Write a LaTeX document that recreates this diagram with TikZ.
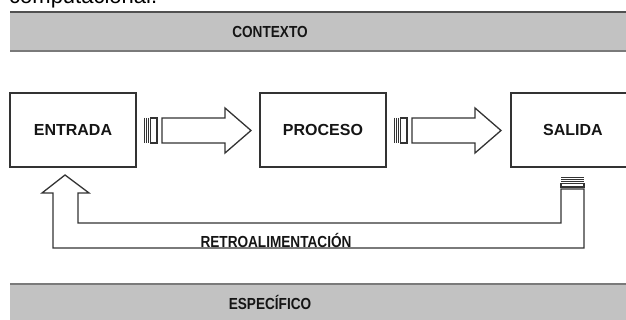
\documentclass[tikz,border=0pt]{standalone}
\usepackage{fontspec}
\setmainfont{Liberation Sans}
\newfontfamily\narrowlab{Liberation Sans}[FakeStretch=0.85]
\definecolor{bandgray}{HTML}{C2C2C2}
\definecolor{bandtop}{HTML}{505050}
\definecolor{bandbot}{HTML}{7A7A7A}
\definecolor{edge}{HTML}{333333}
\definecolor{ink}{HTML}{151515}
\tikzset{
  boxnode/.style={draw=edge, line width=1.4pt, fill=white, minimum width=126pt, minimum height=74pt, inner sep=0pt,
    text=ink, font=\bfseries\fontsize{16}{16}\selectfont},
  bandlabel/.style={text=ink, inner sep=0pt, font=\narrowlab\bfseries\fontsize{16}{16}\selectfont},
  blockarrow/.style={draw=edge, line width=1.3pt, fill=white, line join=miter},
  stripe/.style={draw=edge, line width=1pt},
}
\begin{document}
\begin{tikzpicture}[x=1pt,y=-1pt]
\clip (0,0) rectangle (626,320);
\fill[white] (0,0) rectangle (626,320);
% cropped caption at the top
\node[anchor=base west, inner sep=0pt, font=\fontsize{22}{22}\selectfont] (cap) at (9,4) {computacional.};
% bands
\fill[bandgray] (10,11) rectangle (640,52);
\draw[bandtop, line width=2pt] (10,12) -- (640,12);
\draw[bandbot, line width=2pt] (10,51) -- (640,51);
\node[bandlabel] (contexto) at (270,32) {CONTEXTO};
\fill[bandgray] (10,283) rectangle (640,330);
\draw[bandbot, line width=2pt] (10,284) -- (640,284);
\node[bandlabel] (especifico) at (270,302) {ESPECÍFICO};
% boxes
\node[boxnode] (entrada) at (73,130) {ENTRADA};
\node[boxnode] (proceso) at (323,130) {PROCESO};
\node[boxnode, minimum width=129pt] (salida) at (575.5,130) {\hspace*{-5pt}SALIDA};
% arrows entrada -> proceso -> salida
\foreach \dx in {0,250}{
  \begin{scope}[xshift=\dx]
    \draw[stripe] (144.5,118) -- (144.5,143) (146.5,118) -- (146.5,143) (148.5,118) -- (148.5,143);
    \draw[blockarrow] (150.5,118) rectangle (157,143);
    \draw[blockarrow] (162,118) -- (225,118) -- (225,108) -- (251,130.5) -- (225,153) -- (225,143) -- (162,143) -- cycle;
  \end{scope}
}
% feedback arrow
\draw[stripe] (561,177.5) -- (584,177.5) (561,179.5) -- (584,179.5) (561,181.5) -- (584,181.5);
\draw[blockarrow] (561,183.5) rectangle (584,187);
\draw[blockarrow] (65,175) -- (89,193) -- (78,193) -- (78,223) -- (561,223) -- (561,189) -- (584,189)
  -- (584,248) -- (53,248) -- (53,193) -- (42,193) -- cycle;
\node[bandlabel] (retro) at (276,240) {RETROALIMENTACIÓN};
\end{tikzpicture}
\end{document}
